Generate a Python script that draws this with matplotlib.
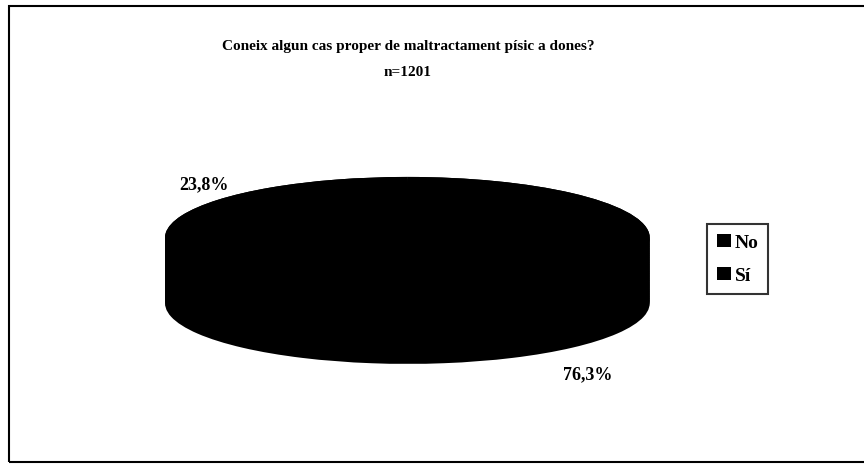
import numpy as np
import matplotlib
matplotlib.use("Agg")
from matplotlib import pyplot as plt
from matplotlib.patches import Rectangle

labels = ['No', 'Sí']
values = [23.8, 76.3]
pct_text = ['23,8%', '76,3%']
title = 'Coneix algun cas proper de maltractament písic a dones?\nn=1201'

plt.rcParams['font.family'] = ['Liberation Serif', 'DejaVu Serif']

fig = plt.figure(figsize=(8.64, 4.77), dpi=100)

# outer frame of the scanned chart
fig.patches.append(Rectangle((0.010, 0.030), 1.2, 0.955, transform=fig.transFigure,
                             fill=False, edgecolor='black', linewidth=1.5))

fig.text(0.472, 0.876, title, ha='center', va='center', fontsize=11,
         fontweight='bold', linespacing=2.3)

ax = fig.add_axes([0.191, 0.235, 0.561, 0.392])
depth = 1.08
# side of the 3d pie: stack the pie downwards
for d in np.linspace(depth, 0, 30):
    ax.pie(values, colors=['black', 'black'], startangle=90, counterclock=False,
           center=(0, -d), radius=1, wedgeprops=dict(linewidth=0))
wedges, _ = ax.pie(values, colors=['black', 'black'], startangle=90,
                   counterclock=False, center=(0, 0), radius=1,
                   wedgeprops=dict(linewidth=0))
ax.set_aspect('auto')
ax.set_xlim(-1, 1)
ax.set_ylim(-1 - depth, 1)
ax.axis('off')

fig.text(0.207, 0.612, pct_text[0], fontsize=13, fontweight='bold', va='center')
fig.text(0.652, 0.214, pct_text[1], fontsize=13, fontweight='bold', va='center')

leg = fig.legend(wedges, labels, loc='center', bbox_to_anchor=(0.854, 0.455),
                 frameon=True, fancybox=False, edgecolor='black',
                 prop=dict(weight='bold', size=14), handlelength=0.7,
                 handleheight=0.7, handletextpad=0.2, borderpad=0.5,
                 labelspacing=0.8)
leg.get_frame().set_linewidth(1.5)

fig.savefig('out.png')
